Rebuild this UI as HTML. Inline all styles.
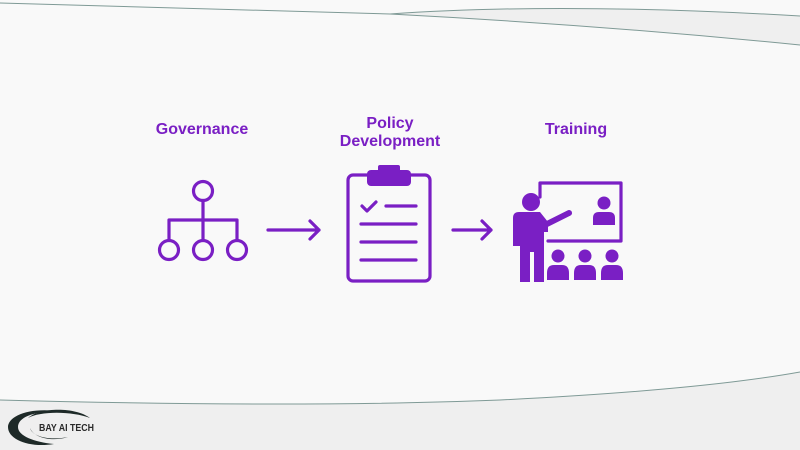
<!DOCTYPE html>
<html><head><meta charset="utf-8"><style>
body{margin:0;width:800px;height:450px;overflow:hidden;background:#f9f9f9;font-family:"Liberation Sans",sans-serif}
svg{position:absolute;left:0;top:0}
</style></head><body>
<svg width="800" height="450" viewBox="0 0 800 450">
<path d="M390,14 Q560,2 800,16 L800,45 Q600,25 390,14 Z" fill="#efefef"/>
<path d="M0,3 L390,14 Q600,25 800,45" fill="none" stroke="#7f9a96" stroke-width="1"/>
<path d="M390,14 Q560,2 800,16" fill="none" stroke="#7f9a96" stroke-width="1"/>
<path d="M0,400 Q300,408 500,400 Q700,390 800,372 L800,450 L0,450 Z" fill="#efefef" stroke="none"/>
<path d="M0,400 Q300,408 500,400 Q700,390 800,372" fill="none" stroke="#7f9a96" stroke-width="1"/>
<g>
<path d="M64,412 C30,406 8,416 8,427 C8,440 30,448 54,444 C34,442 18,436 18,427 C18,416 38,410 64,412Z" fill="#1e2a28"/>
<path d="M90,418 C76,407 40,407 28,418 C40,411 72,411 90,418Z" fill="#1e2a28"/>
<path d="M68,437 C52,442 34,438 30,428 C32,436 48,441 68,437Z" fill="#1e2a28"/>
<text x="39" y="431" font-size="10" font-weight="bold" fill="#2a2a2a" textLength="55" lengthAdjust="spacingAndGlyphs">BAY AI TECH</text>
</g>
<g fill="#7a1fc4" font-weight="bold" font-size="16" text-anchor="middle">
<text x="202" y="134">Governance</text>
<text x="390" y="128">Policy</text>
<text x="390" y="146">Development</text>
<text x="576" y="134">Training</text>
</g>
<g stroke="#7a1fc4" stroke-width="3.2" fill="none" stroke-linecap="round" stroke-linejoin="round">
<circle cx="203" cy="191" r="9.5"/>
<path d="M203,200.5V240 M169,240V220H237V240"/>
<circle cx="169" cy="250" r="9.5"/><circle cx="203" cy="250" r="9.5"/><circle cx="237" cy="250" r="9.5"/>
<path d="M268,230H319 M310,221L319,230L310,239"/>
<path d="M453,230H491 M482,221L491,230L482,239"/>
<rect x="348" y="175" width="82" height="106" rx="5"/>
<path d="M362,206L367,211L376,202 M386,206H416 M361,224H416 M361,242H416 M361,260H416"/>
<path d="M540,197V183H621V241H548"/>
</g>
<path d="M543,226L569,213" stroke="#7a1fc4" stroke-width="6" stroke-linecap="round"/>
<g fill="#7a1fc4">
<rect x="367" y="170" width="44" height="16" rx="4"/>
<rect x="378" y="165" width="22" height="8" rx="2"/>
<circle cx="531" cy="202" r="9"/>
<path d="M519,212H540L548,222V232H544V282H534V252H530V282H520V246H513V218Q513,212 519,212Z"/>
<circle cx="604" cy="203" r="6.5"/>
<path d="M593,225V218Q593,212 599,212H609Q615,212 615,218V225Z"/>
<circle cx="558" cy="256" r="6.5"/><circle cx="585" cy="256" r="6.5"/><circle cx="612" cy="256" r="6.5"/>
<path d="M547,280V273Q547,265 554,265H562Q569,265 569,273V280Z"/>
<path d="M574,280V273Q574,265 581,265H589Q596,265 596,273V280Z"/>
<path d="M601,280V273Q601,265 608,265H616Q623,265 623,273V280Z"/>
</g>
</svg>
</body></html>
